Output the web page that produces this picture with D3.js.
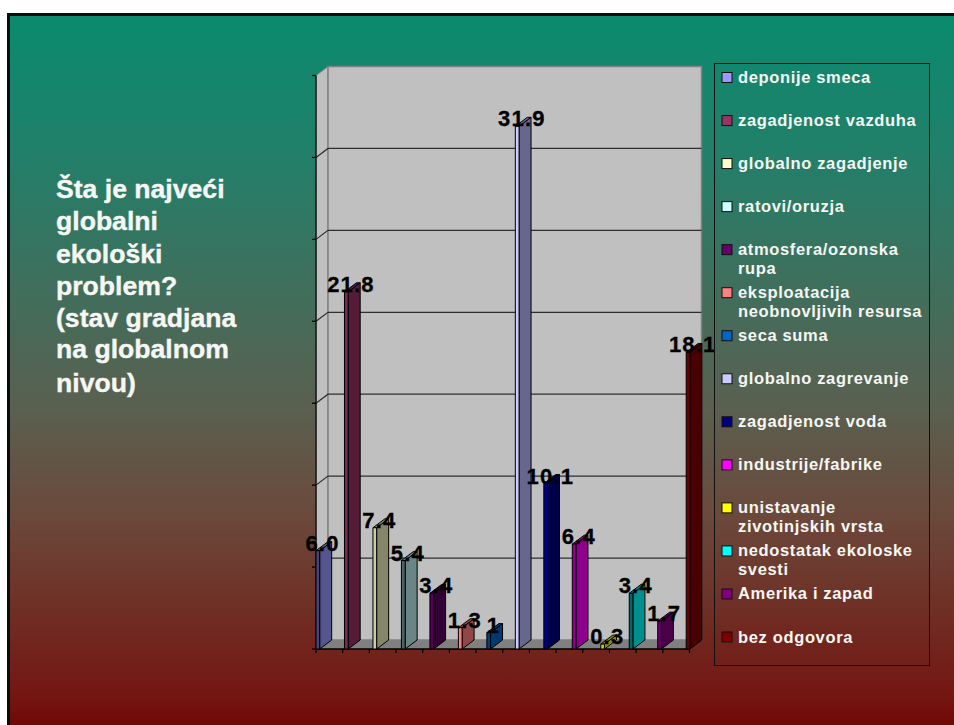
<!DOCTYPE html>
<html><head><meta charset="utf-8">
<script src="https://cdn.jsdelivr.net/npm/d3@7"></script>
<style>html,body{margin:0;padding:0;background:#fff}svg{display:block}text{font-family:"Liberation Sans",Arial,sans-serif;font-weight:bold}</style>
</head><body><svg id="c" width="954" height="725"></svg>
<script>
const categories=["deponije smeca","zagadjenost vazduha","globalno zagadjenje","ratovi/oruzja","atmosfera/ozonska rupa","eksploatacija neobnovljivih resursa","seca suma","globalno zagrevanje","zagadjenost voda","industrije/fabrike","unistavanje zivotinjskih vrsta","nedostatak ekoloske svesti","Amerika i zapad","bez odgovora"];
const legendLines=[["deponije smeca"],["zagadjenost vazduha"],["globalno zagadjenje"],["ratovi/oruzja"],["atmosfera/ozonska","rupa"],["eksploatacija","neobnovljivih resursa"],["seca suma"],["globalno zagrevanje"],["zagadjenost voda"],["industrije/fabrike"],["unistavanje","zivotinjskih vrsta"],["nedostatak ekoloske","svesti"],["Amerika i zapad"],["bez odgovora"]];
const values=[6.0,21.8,7.4,5.4,3.4,1.3,1,31.9,10.1,6.4,0.3,3.4,1.7,18.1];
const valueLabels=["6.0","21.8","7.4","5.4","3.4","1.3","1","31.9","10.1","6.4","0.3","3.4","1.7","18.1"];
const colors=["#9999FF","#993366","#FFFFCC","#CCFFFF","#660066","#FF8080","#0066CC","#CCCCFF","#000080","#FF00FF","#FFFF00","#00FFFF","#800080","#800000"];
const sideColors=["#55558f","#551c39","#85856a","#6a8585","#330033","#8f4747","#003a72","#66668f","#000048","#8f008f","#8f8f00","#008f8f","#480048","#480000"];
const frontColors=["#45457a","#7a2a50","#cccca3","#4a6666","#520052","#ff8080","#004080","#ccccff","#000080","#8f008f","#cccc00","#006666","#660066","#660000"];
const titleLines=["Šta je najveći","globalni","ekološki","problem?","(stav gradjana","na globalnom","nivou)"];
const yTicks=[0,5,10,15,20,25,30,35];
const svg=d3.select("#c");
const defs=svg.append("defs");
const g=defs.append("linearGradient").attr("id","bg").attr("x1",0).attr("x2",0).attr("y1",0).attr("y2",1);
[[0,"#0a8a6e"],[.19,"#21806a"],[.55,"#5a6050"],[.70,"#6a4a3c"],[.83,"#6f3026"],[.96,"#741612"],[1,"#700804"]].forEach(s=>g.append("stop").attr("offset",s[0]).attr("stop-color",s[1]));
svg.append("rect").attr("x",7).attr("y",13).attr("width",960).attr("height",730).attr("fill","#060d0b");
svg.append("rect").attr("x",10).attr("y",16).attr("width",944).attr("height",709).attr("fill","url(#bg)");

const DX=12,DY=-9;
const y=d3.scaleLinear().domain([0,35]).range([649,75.5]);
const idx=d3.range(categories.length);
const xb=d3.scalePoint().domain(idx).range([316,686.2]);
const xt=d3.scaleLinear().domain([0,14]).range([316,689.5]);
const fw=3.7, sw=12;
const x0=xt(0),x1=xt(14),y0=y(0),yT=y(35);
const plot=svg.append("g");
plot.append("path").attr("d",`M${x0},${y0}L${x0},${yT}L${x0+DX},${yT+DY}L${x0+DX},${y0+DY}Z`).attr("fill","#c0c0c0").attr("stroke","#808080");
plot.append("rect").attr("x",x0+DX).attr("y",yT+DY).attr("width",x1-x0).attr("height",y0-yT).attr("fill","#c0c0c0").attr("stroke","#808080").attr("stroke-width",1.5);
plot.append("path").attr("d",`M${x0},${y0}L${x0+DX},${y0+DY}L${x1+DX},${y0+DY}L${x1},${y0}Z`).attr("fill","#808080");
yTicks.slice(1,-1).forEach(t=>{
  plot.append("path").attr("d",`M${x0},${y(t)}L${x0+DX},${y(t)+DY}L${x1+DX},${y(t)+DY}`).attr("fill","none").attr("stroke","#2e2e2e").attr("stroke-width",1.2);
});
const ax=svg.append("g").attr("stroke","#000").attr("stroke-width",1.3);
ax.append("line").attr("x1",x0).attr("x2",x0).attr("y1",yT).attr("y2",y0);
ax.append("line").attr("x1",x0).attr("x2",x1).attr("y1",y0).attr("y2",y0);
yTicks.forEach(t=>ax.append("line").attr("x1",x0-4).attr("x2",x0).attr("y1",y(t)).attr("y2",y(t)));
d3.range(15).forEach(i=>ax.append("line").attr("x1",xt(i)).attr("x2",xt(i)).attr("y1",y0).attr("y2",y0+4));
const bars=svg.append("g").attr("stroke","#000").attr("stroke-width",1).attr("stroke-linejoin","round");
idx.forEach(i=>{
  const a=xb(i),b=a+fw,t=y(values[i]);
  bars.append("path").attr("d",`M${b},${y0}L${b},${t}L${b+sw},${t+DY}L${b+sw},${y0+DY}Z`).attr("fill",sideColors[i]);
  bars.append("path").attr("d",`M${a},${t}L${b},${t}L${b+sw},${t+DY}L${a+sw},${t+DY}Z`).attr("fill",sideColors[i]);
  bars.append("rect").attr("x",a).attr("y",t).attr("width",fw).attr("height",y0-t).attr("fill",frontColors[i]);
});
svg.append("g").selectAll("text").data(idx).join("text")
 .attr("x",i=>xb(i)+6.5).attr("y",i=>y(values[i])).attr("text-anchor","middle")
 .attr("font-size",22).attr("letter-spacing",1.2).attr("fill","#000").attr("stroke","#000").attr("stroke-width",0.3).text(i=>valueLabels[i]);
const leg=svg.append("g");
leg.append("rect").attr("x",714.5).attr("y",63.5).attr("width",215).attr("height",602).attr("fill","none").attr("stroke","#111").attr("stroke-width",1);
const ly=d3.scalePoint().domain(idx).range([77.5,637]);
idx.forEach(i=>{
  leg.append("rect").attr("x",722).attr("y",ly(i)-5).attr("width",10).attr("height",10).attr("fill",colors[i]).attr("stroke","#111").attr("stroke-width",1);
  legendLines[i].forEach((l,k)=>leg.append("text").attr("x",738).attr("y",ly(i)+5.5+k*18.5).attr("font-size",16.5).attr("letter-spacing",0.65).attr("fill","#f6f6f2").text(l));
});
const ty=[198,230,263,295,327,358,392];
svg.append("g").selectAll("text").data(titleLines).join("text").attr("x",56).attr("y",(d,i)=>ty[i]).attr("font-size",26.6).attr("fill","#f6f6f2").attr("stroke","#f6f6f2").attr("stroke-width",0.4).text(d=>d);
</script></body></html>
